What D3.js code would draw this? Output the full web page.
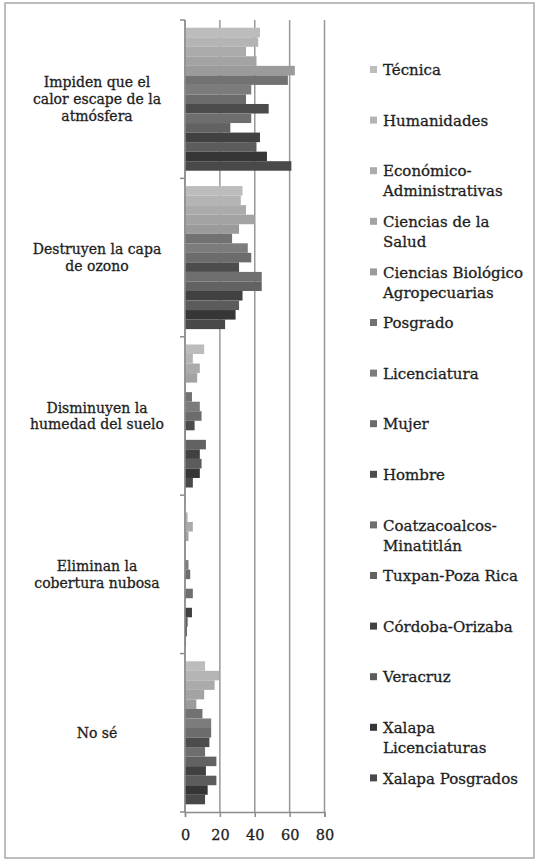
<!DOCTYPE html>
<html>
<head>
<meta charset="utf-8">
<script src="https://cdn.jsdelivr.net/npm/d3@7"></script>
<style>
  body { margin: 0; background: #fff; }
  svg { display: block; }
  text { font-family: "DejaVu Serif", serif; fill: #1e1e1e; stroke: #1e1e1e; stroke-width: 0.3px; }
</style>
</head>
<body>
<div id="chart"></div>
<script>
// categories (y axis), "\n" marks the line breaks as printed
const categories = [
  "Impiden que el\ncalor escape de la\natmósfera",
  "Destruyen la capa\nde ozono",
  "Disminuyen la\nhumedad del suelo",
  "Eliminan la\ncobertura nubosa",
  "No sé"
];

const seriesNames = [
  "Técnica", "Humanidades", "Económico-\nAdministrativas", "Ciencias de la\nSalud",
  "Ciencias Biológico\nAgropecuarias", "Posgrado", "Licenciatura", "Mujer", "Hombre",
  "Coatzacoalcos-\nMinatitlán", "Tuxpan-Poza Rica", "Córdoba-Orizaba", "Veracruz",
  "Xalapa\nLicenciaturas", "Xalapa Posgrados"
];

// one array per category, values in series order
const impiden    = [43, 42, 35, 41, 63, 59, 38, 35, 48, 38, 26, 43, 41, 47, 61];
const destruyen  = [33, 32, 35, 40, 31, 27, 36, 38, 31, 44, 44, 33, 31, 29, 23];
const disminuyen = [11, 4.5, 8.5, 7, 0.5, 4, 8.5, 9.5, 5.5, 0.5, 12, 8.5, 9.5, 8.5, 4.5];
const eliminan   = [0.5, 1.5, 4.5, 2, 0, 0, 2, 3, 0, 4.5, 0, 4, 1.5, 1, 0.5];
const noSe       = [11.5, 19.5, 17, 11, 6.5, 10, 15, 15, 14, 11.5, 18, 12, 18, 13, 11.5];

const xTicks = [0, 20, 40, 60, 80];

const palette = ["#bcbcbc", "#b4b4b4", "#ababab", "#a3a3a3", "#9b9b9b", "#727272", "#7c7c7c",
  "#6c6c6c", "#4c4c4c", "#6e6e6e", "#626262", "#414141", "#5c5c5c", "#363636", "#494949"];

const table = [impiden, destruyen, disminuyen, eliminan, noSe].map(function(vals, i) {
  return { cat: categories[i], values: vals.map(function(v, j) { return { name: seriesNames[j], v: v }; }) };
});

const width = 540, height = 864;
const svg = d3.select("#chart").append("svg").attr("width", width).attr("height", height);

// outer frame
svg.append("rect").attr("x", 5).attr("y", 3).attr("width", 529).attr("height", 855)
  .attr("fill", "none").attr("stroke", "#a8a8a8").attr("stroke-width", 1.5);

const x = d3.scaleLinear().domain([0, 80]).range([185, 324.5]);
const y = d3.scaleBand().domain(categories).range([20, 812]).paddingInner(0.097).paddingOuter(0.0486);
const yi = d3.scaleBand().domain(seriesNames).range([0, y.bandwidth()]);
const color = d3.scaleOrdinal().domain(seriesNames).range(palette);

// grid lines
svg.append("g").selectAll("line").data(xTicks).enter().append("line")
  .attr("x1", function(d) { return x(d); }).attr("x2", function(d) { return x(d); })
  .attr("y1", 20).attr("y2", 812)
  .attr("stroke", "#979797").attr("stroke-width", 1.5);

// bars
const group = svg.append("g").selectAll("g").data(table).enter().append("g")
  .attr("transform", function(d) { return "translate(0," + y(d.cat) + ")"; });

group.selectAll("rect").data(function(d) { return d.values; }).enter().append("rect")
  .attr("x", x(0))
  .attr("y", function(d) { return yi(d.name); })
  .attr("width", function(d) { return x(d.v) - x(0); })
  .attr("height", yi.bandwidth())
  .attr("fill", function(d) { return color(d.name); });

// left axis with ticks at category boundaries
const left = svg.append("g").attr("stroke", "#8c8c8c").attr("stroke-width", 1.5);
left.append("line").attr("x1", x(0)).attr("x2", x(0)).attr("y1", 20).attr("y2", 812);
const bounds = categories.map(function(c) { return y(c) - y.step() * y.paddingOuter(); }).concat([812]);
left.selectAll("line.tk").data(bounds).enter().append("line").attr("class", "tk")
  .attr("x1", x(0) - 5).attr("x2", x(0)).attr("y1", function(d) { return d; }).attr("y2", function(d) { return d; });

// bottom axis
const bottom = svg.append("g").attr("transform", "translate(0,812)")
  .call(d3.axisBottom(x).tickValues(xTicks).tickSize(5).tickPadding(13));
bottom.select(".domain").attr("stroke", "#8c8c8c").attr("stroke-width", 1.5);
bottom.selectAll(".tick line").attr("stroke", "#8c8c8c").attr("stroke-width", 1.5);
bottom.selectAll(".tick text").attr("font-family", "DejaVu Serif").attr("font-size", 14.5).attr("fill", "#1e1e1e");

// category labels
svg.append("g").selectAll("text").data(categories).enter().append("text")
  .attr("text-anchor", "middle").attr("font-size", 14)
  .each(function(c) {
    const lines = c.split("\n");
    const cy = y(c) + y.bandwidth() / 2;
    const t = d3.select(this);
    lines.forEach(function(l, i) {
      t.append("tspan").attr("x", 97)
        .attr("y", cy + (i - (lines.length - 1) / 2) * 16.8)
        .attr("dy", "0.35em").text(l);
    });
  });

// legend
const leg = svg.append("g").selectAll("g").data(seriesNames).enter().append("g")
  .attr("transform", function(d, i) { return "translate(370," + (70 + i * 50.6) + ")"; });
leg.append("rect").attr("x", 0).attr("y", -4).attr("width", 7).attr("height", 7)
  .attr("fill", function(d) { return color(d); });
leg.append("text").attr("font-size", 15)
  .each(function(d) {
    const t = d3.select(this);
    d.split("\n").forEach(function(l, i) {
      t.append("tspan").attr("x", 13).attr("y", i * 20).attr("dy", "0.35em").text(l);
    });
  });
</script>
</body>
</html>
